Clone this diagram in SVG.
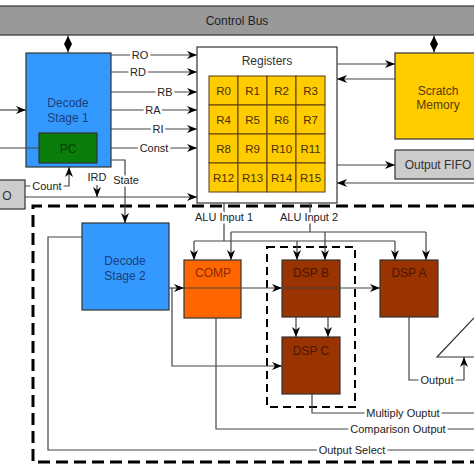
<svg xmlns="http://www.w3.org/2000/svg" width="474" height="474" viewBox="0 0 474 474">
<defs>
<marker id="ar" markerUnits="userSpaceOnUse" markerWidth="10" markerHeight="8" refX="10" refY="4" orient="auto">
<path d="M0,0 L10,4 L0,8 L3,4 z" fill="#000"/>
</marker>
<style>
text{font-family:"Liberation Sans",Arial,sans-serif;text-anchor:middle;dominant-baseline:central}
.lbl{font-size:11px;fill:#222;paint-order:stroke;stroke:#fff;stroke-width:5px;stroke-linejoin:round}
.c{fill:none;stroke:#444;stroke-width:1.2}
.a{marker-end:url(#ar)}
.box{stroke:#333;stroke-width:1.2}
.cell{fill:#FFCC00;stroke:#5a3a10;stroke-width:1}
.ct{font-size:11.5px;fill:#4a2e00}
</style>
</defs>
<rect width="474" height="474" fill="#fff"/>

<g id="control-bus"><rect x="-1" y="6" width="476" height="29" fill="#999" stroke="#333" stroke-width="1.2"/><text x="237" y="21" font-size="12" fill="#222">Control Bus</text></g>

<g id="decode1"><rect class="box" x="26" y="53" width="85" height="114" fill="#3399FF"/><text x="68" y="103" font-size="12" fill="#1c3f78">Decode</text><text x="68" y="118" font-size="12" fill="#1c3f78">Stage 1</text></g>
<g id="pc"><rect class="box" x="39" y="133" width="58" height="30" fill="#0B7D0B"/><text x="68" y="149" font-size="12" fill="#063d06">PC</text></g>

<g id="registers"><rect class="box" x="197" y="47" width="140" height="156" fill="#fff"/><text x="267" y="61" font-size="12" fill="#333">Registers</text>
<g class="ct">
<rect class="cell" x="209" y="76" width="29" height="29"/><rect class="cell" x="238" y="76" width="29" height="29"/><rect class="cell" x="267" y="76" width="29" height="29"/><rect class="cell" x="296" y="76" width="29" height="29"/>
<rect class="cell" x="209" y="105" width="29" height="29"/><rect class="cell" x="238" y="105" width="29" height="29"/><rect class="cell" x="267" y="105" width="29" height="29"/><rect class="cell" x="296" y="105" width="29" height="29"/>
<rect class="cell" x="209" y="134" width="29" height="29"/><rect class="cell" x="238" y="134" width="29" height="29"/><rect class="cell" x="267" y="134" width="29" height="29"/><rect class="cell" x="296" y="134" width="29" height="29"/>
<rect class="cell" x="209" y="163" width="29" height="29"/><rect class="cell" x="238" y="163" width="29" height="29"/><rect class="cell" x="267" y="163" width="29" height="29"/><rect class="cell" x="296" y="163" width="29" height="29"/>
<text x="223.5" y="91">R0</text><text x="252.5" y="91">R1</text><text x="281.5" y="91">R2</text><text x="310.5" y="91">R3</text>
<text x="223.5" y="120">R4</text><text x="252.5" y="120">R5</text><text x="281.5" y="120">R6</text><text x="310.5" y="120">R7</text>
<text x="223.5" y="149">R8</text><text x="252.5" y="149">R9</text><text x="281.5" y="149">R10</text><text x="310.5" y="149">R11</text>
<text x="223.5" y="178">R12</text><text x="252.5" y="178">R13</text><text x="281.5" y="178">R14</text><text x="310.5" y="178">R15</text>
</g></g>

<g id="scratch"><rect class="box" x="395" y="53" width="81" height="86" fill="#FFCC00"/><text x="438" y="91" font-size="12" fill="#5a3a00">Scratch</text><text x="438" y="105" font-size="12" fill="#5a3a00">Memory</text></g>
<g id="output-fifo"><rect class="box" x="395" y="150" width="81" height="29" fill="#CCCCCC"/><text x="438" y="165" font-size="12" fill="#333">Output FIFO</text></g>
<g id="input-fifo"><rect class="box" x="-2" y="180" width="27" height="29" fill="#CCCCCC"/><text x="7" y="196" font-size="12" fill="#333">O</text></g>

<g id="decode2"><rect class="box" x="82" y="223" width="87" height="87" fill="#3399FF"/><text x="125" y="261" font-size="12" fill="#1c3f78">Decode</text><text x="125" y="276" font-size="12" fill="#1c3f78">Stage 2</text></g>
<g id="comp"><rect class="box" x="184" y="260" width="57" height="58" fill="#FF6600"/><text x="213" y="273" font-size="12" fill="#8a2a00">COMP</text></g>
<g id="dspb"><rect class="box" x="282" y="260" width="58" height="57" fill="#993300"/><text x="311" y="273" font-size="12" fill="#4d1500">DSP B</text></g>
<g id="dspc"><rect class="box" x="282" y="337" width="58" height="57" fill="#993300"/><text x="311" y="351" font-size="12" fill="#4d1500">DSP C</text></g>
<g id="dspa"><rect class="box" x="380" y="260" width="58" height="57" fill="#993300"/><text x="409" y="273" font-size="12" fill="#4d1500">DSP A</text></g>
<g id="mux"><polyline points="474,318 437,357 474,357" fill="#fff" stroke="#333" stroke-width="1.2"/></g>

<g id="regions">
<path d="M474,206 H33 V462 H474" fill="none" stroke="#000" stroke-width="3" stroke-dasharray="12 6"/>
<rect x="267" y="247" width="88" height="160" fill="none" stroke="#000" stroke-width="2" stroke-dasharray="8 5"/>
</g>

<g id="connectors">
<path class="c" d="M68,35 V53"/><polygon points="68,36 72,44 68,52 64,44" fill="#000"/>
<path class="c" d="M434,35 V53"/><polygon points="434,36 438,44 434,52 430,44" fill="#000"/>
<path class="c a" d="M0,110 H26"/>
<path class="c" d="M0,148 H39"/>
<path class="c a" d="M111,55 H197"/><text class="lbl" x="140" y="55">RO</text>
<path class="c a" d="M111,72 H197"/><text class="lbl" x="138" y="72">RD</text>
<path class="c a" d="M111,92 H197"/><text class="lbl" x="165" y="92">RB</text>
<path class="c a" d="M111,110 H197"/><text class="lbl" x="153" y="110">RA</text>
<path class="c a" d="M111,129 H197"/><text class="lbl" x="158" y="129">RI</text>
<path class="c a" d="M111,148 H197"/><text class="lbl" x="154" y="148">Const</text>
<path class="c a" d="M25,186 H69 V167"/><text class="lbl" x="47" y="186">Count</text>
<path class="c a" d="M25,197 H197"/>
<text class="lbl" x="97" y="177">IRD</text><path class="c a" d="M97,185 V197"/>
<path class="c a" d="M111,160 H125 V223"/><text class="lbl" x="126" y="180">State</text>
<path class="c a" d="M337,64 H395"/>
<path class="c a" d="M395,79 H337"/>
<path class="c a" d="M337,165 H395"/>
<path class="c a" d="M474,183 H337"/>
<path class="c" d="M224,203 V241 M194,241 H395"/><text class="lbl" x="224" y="217">ALU Input 1</text>
<path class="c" d="M310,203 V232 M231,232 H426"/><text class="lbl" x="309" y="217">ALU Input 2</text>
<path class="c a" d="M194,241 V260"/><path class="c a" d="M297,241 V260"/><path class="c a" d="M395,241 V260"/>
<path class="c a" d="M231,232 V260"/><path class="c a" d="M325,232 V260"/><path class="c a" d="M426,232 V260"/>
<path class="c a" d="M169,288 H184"/><path class="c a" d="M184,288 H282"/><path class="c a" d="M282,288 H380"/>
<path class="c a" d="M172,288 V366 H282"/>
<path class="c a" d="M296,317 V337"/><path class="c a" d="M328,317 V337"/>
<path class="c" d="M216,318 V429 H474"/><text class="lbl" x="398" y="429">Comparison Output</text>
<path class="c" d="M312,394 V413 H474"/><text class="lbl" x="403" y="413">Multiply Ouptut</text>
<path class="c" d="M82,237 H48 V450 H474"/><text class="lbl" x="352" y="450">Output Select</text>
<path class="c a" d="M409,317 V380 H464 V357"/><text class="lbl" x="437" y="380">Output</text>
</g>
</svg>
